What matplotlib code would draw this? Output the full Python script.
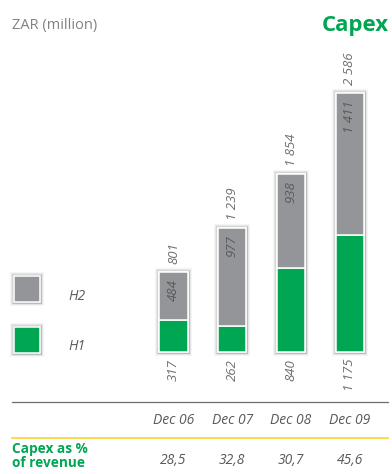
import matplotlib
matplotlib.use("Agg")
import matplotlib.pyplot as plt
import matplotlib.transforms as mtransforms
import matplotlib.patheffects as pe
from matplotlib.patches import Rectangle

plt.rcParams['font.family'] = ['Open Sans', 'DejaVu Sans']

# Capex per half-year, ZAR million
periods = ['Dec 06', 'Dec 07', 'Dec 08', 'Dec 09']
h1 = [317, 262, 840, 1175]
h2 = [484, 977, 938, 1411]
totals = ['801', '1 239', '1 854', '2 586']
h1_labels = ['317', '262', '840', '1 175']
h2_labels = ['484', '977', '938', '1 411']
pct_revenue = ['28,5', '32,8', '30,7', '45,6']

GREEN = '#00a651'
GREY = '#939598'
DARK = '#6d6e71'
TEXT = '#58595b'

W, H = 392, 474
fig = plt.figure(figsize=(W / 100, H / 100), dpi=100)

# axes spans the whole figure; limits chosen so bars sit in the right place
ax = fig.add_axes([0, 0, 1, 1])
step = 58.8
x0 = 173.5
ax.set_xlim(-x0 / step, (W - x0) / step)
base = H - 352
scale = 0.1
ax.set_ylim(-base / scale, (H - base) / scale)
ax.axis('off')

xs = list(range(len(periods)))
bw = 0.48
stack = [a + b for a, b in zip(h1, h2)]

# soft shadow behind each full bar
shadow = [pe.Stroke(linewidth=6, foreground='k', alpha=0.03),
          pe.Stroke(linewidth=4.5, foreground='k', alpha=0.05),
          pe.Stroke(linewidth=3.2, foreground='k', alpha=0.08),
          pe.Stroke(linewidth=2.2, foreground='k', alpha=0.12),
          pe.Normal()]
ax.bar(xs, stack, width=bw, color=GREY, edgecolor='white',
       linewidth=1.1, path_effects=shadow, zorder=1)
ax.bar(xs, h1, width=bw, color=GREEN, edgecolor='white', linewidth=1.1, zorder=2)
ax.bar(xs, h2, bottom=h1, width=bw, color=GREY, edgecolor='white',
       linewidth=1.1, zorder=2)

for x, top, t, la, lb in zip(xs, stack, totals, h1_labels, h2_labels):
    ax.annotate(t, (x, top), xytext=(0, 6), textcoords='offset points',
                rotation=90, ha='center', va='bottom', color=DARK,
                fontsize=9.5, style='italic')
    ax.annotate(lb, (x, top), xytext=(0, -5), textcoords='offset points',
                rotation=90, ha='center', va='top', color=TEXT,
                fontsize=9.5, style='italic', zorder=3)
    ax.annotate(la, (x, 0), xytext=(0, -5), textcoords='offset points',
                rotation=90, ha='center', va='top', color=DARK,
                fontsize=9.5, style='italic')

# category row and percentage row under the bars
blend = mtransforms.blended_transform_factory(ax.transData, fig.transFigure)
for x, p, v in zip(xs, periods, pct_revenue):
    ax.text(x, 1 - 420 / H, p, transform=blend, ha='center', va='center',
            fontsize=10, style='italic', color=TEXT)
    ax.text(x, 1 - 460 / H, v, transform=blend, ha='center', va='center',
            fontsize=10, style='italic', color=TEXT)


def fx(px):
    return px / W


def fy(py):
    return 1 - py / H


fig.add_artist(plt.Line2D([fx(12), fx(388)], [fy(402), fy(402)],
                          color=DARK, linewidth=0.9))
fig.add_artist(plt.Line2D([fx(12), fx(388)], [fy(438), fy(438)],
                          color='#f9d11a', linewidth=1.1))

fig.text(fx(12), fy(456), 'Capex as %\nof revenue', ha='left', va='center',
         fontsize=9.8, fontweight='bold', color=GREEN, linespacing=0.92)

fig.text(fx(12), fy(26), 'ZAR (million)', ha='left', va='center',
         fontsize=10.5, color='#808285')
fig.text(fx(389), fy(26), 'Capex', ha='right', va='center',
         fontsize=16, fontweight='bold', color=GREEN)

# legend squares
for y, c, lab in [(276, GREY, 'H2'), (327, GREEN, 'H1')]:
    fig.add_artist(Rectangle((fx(14), fy(y + 26)), 26 / W, 26 / H,
                             transform=fig.transFigure, facecolor=c,
                             edgecolor='white', linewidth=1.1,
                             path_effects=shadow))
    fig.text(fx(68), fy(y + 20), lab, ha='left', va='center', fontsize=10,
             style='italic', color=TEXT)

fig.savefig('out.png', dpi=100)
